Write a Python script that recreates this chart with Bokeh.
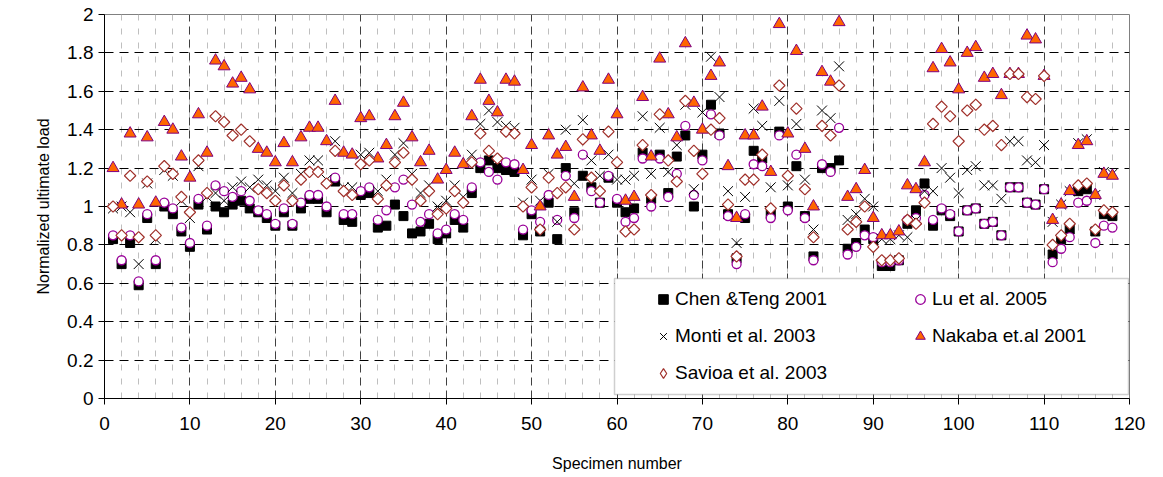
from bokeh.plotting import figure
from bokeh.models import (FixedTicker, Legend, LegendItem, BoxAnnotation, Range1d)
from bokeh.embed import file_html
from bokeh.resources import INLINE
import math

# Specimen numbers along the x axis
specimen = list(range(1, 119))

# Normalized ultimate load predicted by each model
chen_teng_2001 = [
    0.83, 0.70, 0.81, 0.59, 0.94, 0.70, 1.00, 0.96, 0.87, 0.79,
    1.01, 0.88, 1.00, 0.97, 1.01, 1.03, 0.99, 0.97, 0.94, 0.90,
    0.97, 0.90, 0.99, 1.04, 1.04, 0.97, 1.13, 0.93, 0.92, 1.06,
    1.07, 0.89, 0.90, 1.01, 0.95, 0.86, 0.87, 0.91, 0.83, 0.86,
    0.93, 0.89, 1.07, 1.20, 1.24, 1.20, 1.19, 1.18, 0.85, 0.96,
    0.87, 1.02, 0.83, 1.20, 0.97, 1.16, 1.10, 1.02, 1.15, 1.02,
    0.97, 0.99, 1.28, 1.04, 1.27, 1.07, 1.26, 1.37, 1.00, 1.27,
    1.53, 1.38, 0.96, 0.73, 0.94, 1.29, 1.25, 0.96, 1.39, 1.00,
    1.21, 0.95, 0.74, 1.20, 1.20, 1.24, 0.78, 0.81, 0.88, 0.83,
    0.69, 0.69, 0.72, 0.91, 0.98, 1.12, 0.90, 0.98, 0.95, 0.87,
    0.98, 0.99, 0.91, 0.92, 0.85, 1.10, 1.10, 1.02, 1.01, 1.09,
    0.75, 0.83, 0.88, 1.08, 1.09, 0.87, 0.96, 0.95,
]
lu_2005 = [
    0.85, 0.72, 0.85, 0.61, 0.96, 0.72, 1.02, 0.99, 0.89, 0.81,
    1.04, 0.90, 1.11, 1.08, 1.05, 1.08, 1.03, 0.98, 0.96, 0.91,
    0.99, 0.91, 1.02, 1.06, 1.06, 1.00, 1.15, 0.96, 0.96, 1.08,
    1.10, 0.93, 0.98, 1.10, 1.14, 1.01, 0.92, 0.96, 0.86, 0.88,
    0.96, 0.93, 1.10, 1.23, 1.18, 1.14, 1.23, 1.22, 0.88, 0.98,
    0.92, 1.06, 0.93, 1.16, 0.94, 1.27, 1.08, 1.02, 1.16, 1.04,
    0.92, 0.94, 1.25, 1.00, 1.25, 1.05, 1.17, 1.42, 1.06, 1.24,
    1.48, 1.37, 0.95, 0.70, 0.96, 1.22, 1.21, 0.94, 1.37, 0.98,
    1.27, 0.94, 0.72, 1.22, 1.18, 1.41, 0.75, 0.79, 0.85, 0.84,
    0.71, 0.71, 0.72, 0.93, 0.94, 1.06, 0.93, 0.99, 0.96, 0.87,
    0.98, 0.99, 0.91, 0.92, 0.85, 1.10, 1.10, 1.02, 1.01, 1.09,
    0.71, 0.78, 0.84, 1.02, 1.03, 0.81, 0.90, 0.89,
]
monti_2003 = [
    0.99, 1.00, 0.97, 0.70, 1.12, 0.83, 1.19, 1.16, 1.03, 0.94,
    1.21, 1.05, 1.07, 1.03, 1.10, 1.13, 1.10, 1.14, 1.11, 1.08,
    1.15, 1.07, 1.17, 1.24, 1.24, 1.14, 1.34, 1.10, 1.10, 1.27,
    1.28, 1.08, 1.14, 1.27, 1.33, 1.17, 1.07, 1.11, 1.00, 1.03,
    1.11, 1.05, 1.27, 1.43, 1.50, 1.44, 1.42, 1.41, 1.02, 1.14,
    1.03, 1.17, 0.92, 1.40, 1.12, 1.45, 1.24, 1.16, 1.27, 1.14,
    1.14, 1.16, 1.47, 1.17, 1.41, 1.18, 1.32, 1.53, 1.09, 1.49,
    1.78, 1.57, 1.08, 0.81, 1.05, 1.51, 1.42, 1.10, 1.55, 1.11,
    1.43, 1.14, 0.88, 1.50, 1.46, 1.73, 0.93, 0.96, 1.04, 1.00,
    0.83, 0.83, 0.85, 0.84, 0.93, 1.08, 1.08, 1.20, 1.15, 1.07,
    1.19, 1.21, 1.11, 1.11, 1.04, 1.34, 1.34, 1.24, 1.23, 1.32,
    0.92, 1.01, 1.08, 1.33, 1.35, 1.06, 1.18, 1.17,
]
nakaba_2001 = [
    1.20, 1.01, 1.38, 1.01, 1.36, 1.02, 1.44, 1.40, 1.26, 1.15,
    1.48, 1.28, 1.76, 1.73, 1.64, 1.67, 1.61, 1.30, 1.28, 1.23,
    1.33, 1.23, 1.36, 1.41, 1.41, 1.34, 1.55, 1.28, 1.27, 1.46,
    1.47, 1.25, 1.32, 1.47, 1.54, 1.36, 1.23, 1.29, 1.14, 1.19,
    1.28, 1.22, 1.47, 1.66, 1.55, 1.49, 1.66, 1.65, 1.19, 1.32,
    1.00, 1.37, 1.27, 1.31, 1.05, 1.62, 1.37, 1.29, 1.66, 1.48,
    1.03, 1.05, 1.57, 1.26, 1.77, 1.48, 1.36, 1.85, 1.54, 1.40,
    1.68, 1.75, 1.21, 0.94, 1.37, 1.37, 1.52, 1.18, 1.95, 1.38,
    1.81, 1.30, 1.00, 1.70, 1.65, 1.96, 1.05, 1.09, 1.19, 0.94,
    0.85, 0.85, 0.87, 1.11, 1.09, 1.23, 1.72, 1.82, 1.75, 1.61,
    1.80, 1.83, 1.67, 1.69, 1.58, 1.69, 1.69, 1.89, 1.87, 1.68,
    0.93, 1.01, 1.08, 1.32, 1.34, 1.06, 1.17, 1.16,
]
savioa_2003 = [
    1.00, 0.85, 1.16, 0.84, 1.13, 0.85, 1.21, 1.17, 1.05, 0.97,
    1.24, 1.07, 1.47, 1.44, 1.37, 1.40, 1.34, 1.09, 1.07, 1.03,
    1.11, 1.03, 1.14, 1.18, 1.18, 1.12, 1.29, 1.08, 1.06, 1.22,
    1.24, 1.04, 1.11, 1.23, 1.28, 1.14, 1.03, 1.08, 0.96, 0.99,
    1.08, 1.02, 1.23, 1.38, 1.29, 1.25, 1.39, 1.38, 1.00, 1.10,
    0.88, 1.15, 1.07, 1.10, 0.88, 1.35, 1.15, 1.08, 1.39, 1.23,
    0.87, 0.88, 1.32, 1.06, 1.48, 1.24, 1.13, 1.55, 1.29, 1.17,
    1.40, 1.46, 1.01, 0.74, 1.14, 1.14, 1.27, 0.99, 1.63, 1.16,
    1.51, 1.09, 0.84, 1.42, 1.37, 1.63, 0.88, 0.92, 1.00, 0.79,
    0.72, 0.72, 0.73, 0.93, 0.91, 1.02, 1.43, 1.52, 1.47, 1.34,
    1.50, 1.53, 1.40, 1.42, 1.32, 1.69, 1.69, 1.57, 1.56, 1.68,
    0.80, 0.85, 0.91, 1.11, 1.12, 0.88, 0.98, 0.97,
]

# Axis ticks and labels
x_ticks = [0, 10, 20, 30, 40, 50, 60, 70, 80, 90, 100, 110, 120]
x_minor = [0, 2, 4, 6, 8, 10, 12, 14, 16, 18, 20, 22, 24, 26, 28, 30, 32, 34, 36, 38,
           40, 42, 44, 46, 48, 50, 52, 54, 56, 58, 60, 62, 64, 66, 68, 70, 72, 74, 76, 78,
           80, 82, 84, 86, 88, 90, 92, 94, 96, 98, 100, 102, 104, 106, 108, 110, 112,
           114, 116, 118, 120]
y_ticks = [0, 0.2, 0.4, 0.6, 0.8, 1.0, 1.2, 1.4, 1.6, 1.8, 2.0]
y_labels = ["0", "0.2", "0.4", "0.6", "0.8", "1", "1.2", "1.4", "1.6", "1.8", "2"]

FONT = "Liberation Sans"
SAVIOA_COLOR = "#A0302A"

p = figure(width=1163, height=477, output_backend="svg", toolbar_location=None,
           x_range=Range1d(0, 120), y_range=Range1d(0, 2),
           min_border_left=104, min_border_right=34, min_border_top=14,
           min_border_bottom=79)
p.background_fill_color = "white"
p.border_fill_color = "white"
p.outline_line_color = "#808080"
p.outline_line_width = 1

# x axis
p.xaxis.ticker = FixedTicker(ticks=x_ticks, minor_ticks=x_minor)
p.xaxis.axis_label = "Specimen number"
# y axis
p.yaxis.ticker = FixedTicker(ticks=y_ticks)
p.yaxis.major_label_overrides = {t: l for t, l in zip(y_ticks, y_labels)}
p.yaxis.axis_label = "Normalized ultimate load"

for ax in (p.xaxis[0], p.yaxis[0]):
    ax.axis_line_color = "black"
    ax.axis_line_width = 1
    ax.major_tick_line_color = "black"
    ax.major_tick_out = 6
    ax.major_tick_in = 0
    ax.minor_tick_line_color = None
    ax.major_label_text_font = FONT
    ax.major_label_text_font_size = "19px"
    ax.major_label_text_color = "black"
    ax.axis_label_text_font = FONT
    ax.axis_label_text_font_size = "16px"
    ax.axis_label_text_font_style = "normal"
    ax.axis_label_text_color = "black"

p.xaxis.major_label_standoff = 12
p.xaxis.axis_label_standoff = 22
p.yaxis.major_label_standoff = 5
p.yaxis.axis_label_standoff = 12

# grid: dashed black horizontals, dark dashed majors and light dashed minors vertically
p.ygrid.grid_line_color = "black"
p.ygrid.grid_line_dash = "9 6"
p.ygrid.grid_line_width = 1
p.xgrid.grid_line_color = "#404040"
p.xgrid.grid_line_dash = "8 5"
p.xgrid.grid_line_width = 1
p.xgrid.minor_grid_line_color = "#BFBFBF"
p.xgrid.minor_grid_line_dash = "6 8"
p.xgrid.minor_grid_line_width = 1

r_chen = p.scatter(specimen, chen_teng_2001, marker="square", size=9,
                   fill_color="black", line_color="black")
r_lu = p.scatter(specimen, lu_2005, marker="circle", size=9,
                 fill_color="white", line_color="#990099", line_width=1.3)
r_monti = p.scatter(specimen, monti_2003, marker="x", size=14,
                    line_color="black", line_width=1)
r_nakaba = p.scatter(specimen, nakaba_2001, marker="triangle", size=12,
                     fill_color="#FF6600", line_color="#800080", line_width=1)
# diamonds: a square turned by 45 degrees gives an even rhombus
r_savioa = p.scatter(specimen, savioa_2003, marker="square", size=8, angle=math.pi / 4,
                     fill_color="white", line_color=SAVIOA_COLOR, line_width=1.2)
# hidden twin of the diamond series, used only for its legend swatch
r_savioa_key = p.scatter(specimen, savioa_2003, marker="diamond", size=15,
                         fill_color="white", line_color=SAVIOA_COLOR, line_width=1.2,
                         visible=False)

# legend frame
box = BoxAnnotation(left=614, right=1128, top=278, bottom=394,
                    left_units="canvas", right_units="canvas",
                    top_units="canvas", bottom_units="canvas",
                    fill_color="white", fill_alpha=1.0,
                    line_color="#606060", line_width=1.5)
p.add_layout(box)

common = dict(orientation="vertical", spacing=13, padding=0, margin=0,
              glyph_width=24, glyph_height=24, label_height=24, label_standoff=0,
              border_line_alpha=0, background_fill_alpha=0,
              inactive_fill_alpha=0,
              label_text_font=FONT, label_text_font_size="19px",
              label_text_color="black")

leg_left = Legend(items=[LegendItem(label="Chen &Teng 2001", renderers=[r_chen]),
                         LegendItem(label="Monti et al. 2003", renderers=[r_monti]),
                         LegendItem(label="Savioa et al. 2003", renderers=[r_savioa_key])],
                  location=(547, 13), **common)
leg_right = Legend(items=[LegendItem(label="Lu et al. 2005", renderers=[r_lu]),
                          LegendItem(label="Nakaba et.al 2001", renderers=[r_nakaba])],
                   location=(804, 50), **common)
p.add_layout(leg_left)
p.add_layout(leg_right)

open("out.html", "w").write(file_html(p, INLINE))
